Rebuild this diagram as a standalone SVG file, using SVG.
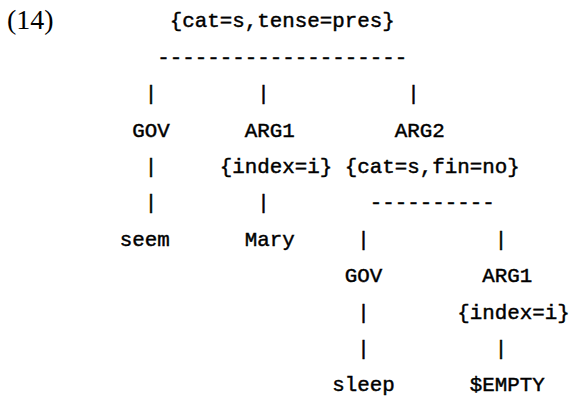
<svg xmlns="http://www.w3.org/2000/svg" width="570" height="401" viewBox="0 0 570 401">
<style>
.t{font-family:"Liberation Mono","DejaVu Sans Mono",monospace;font-size:20.833px;fill:#000;stroke:#000;stroke-width:0.45px;white-space:pre}
.n{font-family:"Liberation Serif","Times New Roman",serif;font-size:28px;fill:#000}
</style>
<rect width="570" height="401" fill="#fff"/>
<text class="n" x="7" y="29">(14)</text>
<g id="connectors" class="t">
<text x="157.25" y="63.7">--------------------</text>
<text x="144.75" y="100.1">|</text>
<text x="257.25" y="100.1">|</text>
<text x="407.25" y="100.1">|</text>
<text x="144.75" y="172.9">|</text>
<text x="144.75" y="209.3">|</text>
<text x="257.25" y="209.3">|</text>
<text x="369.75" y="209.3">----------</text>
<text x="357.25" y="245.7">|</text>
<text x="494.75" y="245.7">|</text>
<text x="357.25" y="318.5">|</text>
<text x="357.25" y="354.9">|</text>
<text x="494.75" y="354.9">|</text>
</g>
<g id="root" class="t"><text x="169.75" y="27.3">{cat=s,tense=pres}</text></g>
<g id="gov1" class="t"><text x="132.25" y="136.5">GOV</text></g>
<g id="arg1" class="t"><text x="244.75" y="136.5">ARG1</text><text x="219.75" y="172.9">{index=i}</text></g>
<g id="arg2" class="t"><text x="394.75" y="136.5">ARG2</text><text x="344.75" y="172.9">{cat=s,fin=no}</text></g>
<g id="seem" class="t"><text x="119.75" y="245.7">seem</text></g>
<g id="mary" class="t"><text x="244.75" y="245.7">Mary</text></g>
<g id="gov2" class="t"><text x="344.75" y="282.1">GOV</text></g>
<g id="arg1b" class="t"><text x="482.25" y="282.1">ARG1</text><text x="457.25" y="318.5">{index=i}</text></g>
<g id="sleep" class="t"><text x="332.25" y="391.3">sleep</text></g>
<g id="empty" class="t"><text x="469.75" y="391.3">$EMPTY</text></g>
</svg>
